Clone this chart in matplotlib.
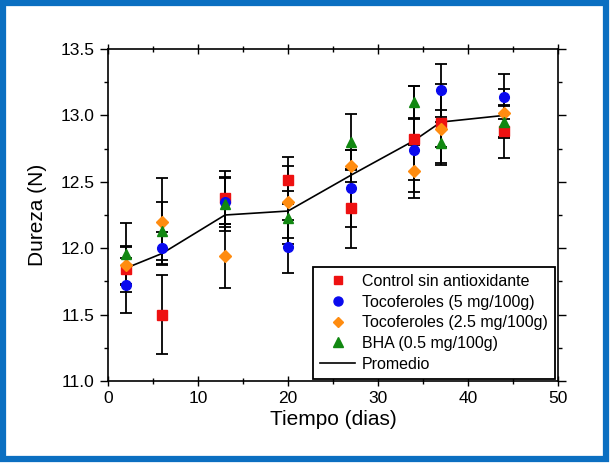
import matplotlib
matplotlib.use("Agg")
from matplotlib import pyplot as plt
from matplotlib.lines import Line2D
from matplotlib.patches import Rectangle
from matplotlib.ticker import MultipleLocator

plt.rcParams['font.family'] = ['Liberation Sans', 'DejaVu Sans']

dias = [2, 6, 13, 20, 27, 34, 37, 44]

control = [11.84, 11.50, 12.38, 12.51, 12.30, 12.82, 12.94, 12.88]
control_err = [0.17, 0.30, 0.20, 0.18, 0.30, 0.40, 0.30, 0.20]

toco5 = [11.72, 12.00, 12.35, 12.01, 12.45, 12.74, 13.19, 13.14]
toco5_err = [0.21, 0.12, 0.19, 0.20, 0.29, 0.23, 0.20, 0.17]

toco25 = [11.87, 12.20, 11.94, 12.35, 12.62, 12.58, 12.90, 13.02]
toco25_err = [0.15, 0.33, 0.24, 0.27, 0.12, 0.20, 0.14, 0.18]

bha = [11.96, 12.13, 12.33, 12.23, 12.80, 13.10, 12.79, 12.95]
bha_err = [0.23, 0.22, 0.20, 0.20, 0.21, 0.12, 0.16, 0.12]

promedio = [11.85, 11.96, 12.25, 12.28, 12.55, 12.81, 12.95, 13.00]

series = [
    (control, control_err, 's', 6.5, '#ee1111', 'Control sin antioxidante'),
    (toco5, toco5_err, 'o', 7, '#0a0aee', 'Tocoferoles (5 mg/100g)'),
    (toco25, toco25_err, 'D', 6, '#ff8c10', 'Tocoferoles (2.5 mg/100g)'),
    (bha, bha_err, '^', 7, '#118811', 'BHA (0.5 mg/100g)'),
]

fig = plt.figure(figsize=(6.16, 4.66), dpi=100)
ax = fig.add_axes([0.1753, 0.1824, 0.7305, 0.7124])

handles = []
for vals, err, mk, size, col, lab in series:
    ax.errorbar(dias, vals, yerr=err, marker=mk, ms=size, color=col, mec=col,
                ecolor='black', elinewidth=1.3, capsize=4, capthick=1.3,
                linestyle='none')
    handles.append(Line2D([], [], marker=mk, ms=size - 0.5, color=col,
                          linestyle='none', label=lab))
line, = ax.plot(dias, promedio, color='black', lw=1.2, label='Promedio')
handles.append(line)

ax.set_xlim(0, 50)
ax.set_ylim(11.0, 13.5)
ax.xaxis.set_major_locator(MultipleLocator(10))
ax.xaxis.set_minor_locator(MultipleLocator(5))
ax.yaxis.set_major_locator(MultipleLocator(0.5))
ax.yaxis.set_minor_locator(MultipleLocator(0.25))
ax.yaxis.set_major_formatter(plt.FormatStrFormatter('%.1f'))

ax.tick_params(axis='x', which='both', direction='inout', top=True, labelsize=12.5)
ax.tick_params(axis='x', which='major', length=7, width=1)
ax.tick_params(axis='x', which='minor', length=5, width=1)
ax.tick_params(axis='y', which='both', direction='out', right=True, labelsize=12.5)
ax.tick_params(axis='y', which='major', length=6, width=1)
ax.tick_params(axis='y', which='minor', length=3, width=1)
for s in ax.spines.values():
    s.set_linewidth(1.2)

ax.set_xlabel('Tiempo (dias)', fontsize=15, labelpad=3)
ax.set_ylabel('Dureza (N)', fontsize=15, labelpad=10)

leg = ax.legend(handles=handles, loc='lower right', bbox_to_anchor=(0.993, 0.006),
                borderaxespad=0, fontsize=11.5, handlelength=2.2, handletextpad=0.4,
                labelspacing=0.36, borderpad=0.45, fancybox=False, framealpha=1,
                edgecolor='black')
leg.get_frame().set_linewidth(1.3)

# blue frame around the whole picture
fig.patches.append(Rectangle((3 / 616, 7 / 466), 603 / 616, 456 / 466,
                             transform=fig.transFigure, fill=False,
                             edgecolor='#0b6fc1', linewidth=4.5))

fig.savefig('out.png', dpi=100)
